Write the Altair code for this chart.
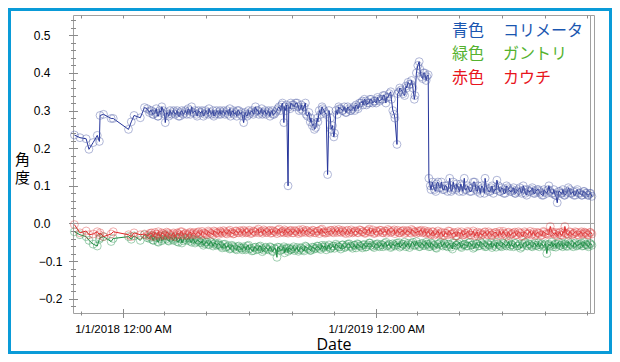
import altair as alt
import pandas as pd

# ---- measurement days (offset in days from 2018-01-01) ----
days_sparse = [-70, -62, -53, -49, -43, -37, -34, -33, -28, -17, -14, 8, 12, 16, 25, 31, 35]
days_dense = [
    38, 41, 44, 48, 51, 55, 58, 61, 65, 68,
    72, 75, 78, 82, 85, 89, 92, 96, 99, 102,
    106, 109, 113, 116, 119, 123, 126, 130, 133, 137,
    140, 143, 147, 150, 154, 157, 160, 164, 167, 171,
    174, 177, 181, 184, 188, 191, 195, 198, 201, 205,
    208, 212, 215, 218, 222, 225, 229, 232, 235, 238,
    239, 242, 246, 249, 253, 256, 259, 263, 266, 270,
    273, 276, 280, 283, 287, 290, 293, 295, 297, 300,
    304, 307, 311, 314, 317, 321, 324, 328, 331, 334,
    338, 341, 345, 348, 351, 355, 358, 362, 365, 368,
    372, 375, 379, 382, 386, 389, 392, 395, 396, 399,
    403, 406, 409, 413, 416, 420, 423, 425, 427, 430,
    433, 437, 440, 441, 444, 447, 451, 454, 458, 461,
    464, 468, 471, 475, 478, 481, 485, 488, 492, 495,
    498, 502, 505, 509, 512, 515, 519, 522, 526, 529,
    532, 536, 539, 543, 546, 549, 553, 556, 560, 563,
    566, 570, 573, 577, 580, 583, 587, 590, 594, 597,
    600, 604, 607, 611, 614, 616, 618, 621, 624, 626,
    628, 631, 634, 637, 639, 642, 645, 649, 652, 655,
    659, 662, 665, 668, 671, 673, 676,
]
days_extra = [
    39, 43, 46, 50, 53, 56, 60, 63, 66, 70,
    73, 77, 80, 83, 87, 90, 94, 97, 100, 104,
    107, 111, 114, 118, 121, 124, 128, 131, 135, 138,
    141, 145, 148, 152, 155, 159, 162, 165, 169, 172,
    176, 179, 182, 186, 189, 193, 196, 200, 203, 206,
    210, 213, 216, 220, 223, 227, 230, 233, 236, 241,
    244, 247, 251, 254, 257, 261, 264, 268, 271, 275,
    278, 281, 285, 288, 291, 299, 302, 305, 309, 312,
    316, 319, 322, 326, 329, 333, 336, 339, 343, 346,
    350, 353, 356, 360, 363, 367, 370, 374, 377, 380,
    384, 387, 391, 398, 401, 404, 408, 411, 415, 418,
    421, 428, 432, 435, 438, 443, 446, 449, 452, 456,
    459, 463, 466, 469, 473, 476, 480, 483, 487, 490,
    493, 497, 500, 504, 507, 511, 514, 517, 521, 524,
    527, 531, 534, 538, 541, 544, 548, 551, 555, 558,
    561, 565, 568, 572, 575, 579, 582, 585, 589, 592,
    595, 599, 602, 606, 609, 613, 620, 623, 630, 633,
    636, 641, 644, 647, 650, 654, 657, 661, 664, 667,
    670, 674,
]

# ---- 青色 コリメータ (collimator) ----
blue = [
    0.235, 0.228, 0.225, 0.197, 0.215, 0.234, 0.218, 0.287, 0.290, 0.279,
    0.279, 0.250, 0.270, 0.287, 0.281, 0.308, 0.305,
    0.295, 0.300, 0.290, 0.305, 0.285, 0.295, 0.300, 0.268, 0.290, 0.300,
    0.295, 0.290, 0.300, 0.285, 0.300, 0.295, 0.290, 0.300, 0.310, 0.295,
    0.290, 0.300, 0.295, 0.285, 0.300, 0.290, 0.295, 0.300, 0.290, 0.295,
    0.300, 0.295, 0.290, 0.300, 0.305, 0.295, 0.290, 0.285, 0.300, 0.295,
    0.268, 0.290, 0.300, 0.295, 0.290, 0.310, 0.300, 0.295, 0.290, 0.300,
    0.295, 0.285, 0.300, 0.290, 0.300, 0.310, 0.315, 0.268, 0.300, 0.100,
    0.310, 0.320, 0.315, 0.320, 0.310, 0.305, 0.300, 0.320, 0.285, 0.270,
    0.260, 0.250, 0.280, 0.300, 0.310, 0.300, 0.290, 0.130, 0.300, 0.250,
    0.230, 0.300, 0.310, 0.305, 0.300, 0.295, 0.310, 0.300, 0.305, 0.300,
    0.310, 0.320, 0.325, 0.330, 0.315, 0.320, 0.330, 0.325, 0.320, 0.330,
    0.330, 0.340, 0.320, 0.335, 0.350, 0.300, 0.280, 0.210, 0.345, 0.360,
    0.350, 0.340, 0.360, 0.370, 0.380, 0.330, 0.400, 0.420, 0.430, 0.390,
    0.400, 0.380, 0.395, 0.120, 0.090, 0.100, 0.085, 0.110, 0.095, 0.090,
    0.100, 0.085, 0.120, 0.090, 0.095, 0.105, 0.085, 0.100, 0.120, 0.090,
    0.095, 0.085, 0.110, 0.090, 0.100, 0.080, 0.095, 0.120, 0.090, 0.085,
    0.100, 0.090, 0.115, 0.085, 0.095, 0.080, 0.100, 0.090, 0.085, 0.095,
    0.080, 0.090, 0.085, 0.100, 0.080, 0.090, 0.085, 0.095, 0.080, 0.090,
    0.085, 0.075, 0.090, 0.080, 0.100, 0.085, 0.080, 0.090, 0.075, 0.055,
    0.085, 0.080, 0.090, 0.075, 0.080, 0.095, 0.080, 0.085, 0.075, 0.090,
    0.080, 0.075, 0.085, 0.080, 0.075, 0.080, 0.072,
]
blue_extra = [
    0.300, 0.290, 0.295, 0.285, 0.300, 0.310, 0.290, 0.295, 0.285, 0.290,
    0.300, 0.295, 0.285, 0.295, 0.290, 0.300, 0.305, 0.290, 0.295, 0.300,
    0.285, 0.295, 0.300, 0.290, 0.295, 0.305, 0.290, 0.285, 0.300, 0.290,
    0.290, 0.300, 0.295, 0.290, 0.285, 0.300, 0.295, 0.300, 0.290, 0.285,
    0.295, 0.285, 0.290, 0.300, 0.295, 0.300, 0.290, 0.305, 0.295, 0.290,
    0.300, 0.295, 0.290, 0.295, 0.305, 0.300, 0.320, 0.310, 0.315, 0.305,
    0.315, 0.310, 0.320, 0.300, 0.315, 0.310, 0.290, 0.295, 0.280, 0.265,
    0.255, 0.270, 0.290, 0.305, 0.295, 0.280, 0.260, 0.240, 0.290, 0.305,
    0.300, 0.310, 0.295, 0.305, 0.300, 0.310, 0.315, 0.305, 0.320, 0.315,
    0.325, 0.320, 0.330, 0.320, 0.325, 0.335, 0.325, 0.330, 0.340, 0.335,
    0.345, 0.330, 0.290, 0.350, 0.355, 0.345, 0.365, 0.375, 0.370, 0.360,
    0.340, 0.410, 0.385, 0.400, 0.390, 0.100, 0.110, 0.090, 0.105, 0.095,
    0.110, 0.090, 0.100, 0.095, 0.085, 0.110, 0.090, 0.095, 0.105, 0.085,
    0.090, 0.100, 0.085, 0.095, 0.110, 0.085, 0.090, 0.100, 0.080, 0.095,
    0.085, 0.095, 0.080, 0.090, 0.100, 0.085, 0.090, 0.080, 0.095, 0.085,
    0.090, 0.080, 0.085, 0.095, 0.080, 0.090, 0.075, 0.085, 0.090, 0.080,
    0.085, 0.090, 0.080, 0.075, 0.085, 0.090, 0.080, 0.075, 0.085, 0.080,
    0.075, 0.085, 0.090, 0.080, 0.075, 0.085, 0.080, 0.075, 0.085, 0.080,
    0.075, 0.080,
]

# ---- 赤色 カウチ (couch) ----
red = [
    -0.003, -0.025, -0.020, -0.030, -0.028, -0.022, -0.030, -0.025, -0.035, -0.028,
    -0.022, -0.030, -0.035, -0.025, -0.030, -0.028, -0.032,
    -0.030, -0.025, -0.035, -0.028, -0.022, -0.030, -0.027, -0.033, -0.025, -0.030,
    -0.028, -0.035, -0.025, -0.030, -0.022, -0.028, -0.032, -0.026, -0.030, -0.024,
    -0.027, -0.022, -0.030, -0.025, -0.028, -0.020, -0.026, -0.030, -0.022, -0.025,
    -0.020, -0.026, -0.022, -0.028, -0.018, -0.024, -0.027, -0.020, -0.025, -0.022,
    -0.018, -0.025, -0.022, -0.027, -0.020, -0.024, -0.015, -0.022, -0.026, -0.020,
    -0.024, -0.018, -0.025, -0.021, -0.027, -0.015, -0.022, -0.025, -0.020, -0.026,
    -0.022, -0.018, -0.025, -0.020, -0.027, -0.022, -0.016, -0.024, -0.020, -0.026,
    -0.018, -0.024, -0.021, -0.027, -0.015, -0.022, -0.025, -0.020, -0.024, -0.018,
    -0.025, -0.020, -0.016, -0.024, -0.021, -0.027, -0.018, -0.022, -0.025, -0.020,
    -0.024, -0.017, -0.022, -0.026, -0.020, -0.015, -0.023, -0.027, -0.020, -0.024,
    -0.018, -0.025, -0.021, -0.016, -0.024, -0.020, -0.027, -0.022, -0.018, -0.025,
    -0.021, -0.027, -0.019, -0.024, -0.016, -0.022, -0.026, -0.020, -0.024, -0.018,
    -0.023, -0.027, -0.021, -0.025, -0.030, -0.022, -0.028, -0.020, -0.026, -0.032,
    -0.025, -0.030, -0.021, -0.028, -0.024, -0.033, -0.026, -0.022, -0.030, -0.027,
    -0.024, -0.031, -0.020, -0.027, -0.033, -0.025, -0.029, -0.022, -0.030, -0.026,
    -0.032, -0.024, -0.028, -0.021, -0.030, -0.026, -0.034, -0.023, -0.028, -0.025,
    -0.030, -0.022, -0.027, -0.033, -0.025, -0.029, -0.021, -0.028, -0.032, -0.024,
    -0.027, -0.031, -0.023, -0.028, -0.026, -0.008, -0.022, -0.028, -0.024, -0.033,
    -0.026, -0.030, -0.022, -0.008, -0.027, -0.031, -0.024, -0.028, -0.022, -0.030,
    -0.025, -0.029, -0.023, -0.027, -0.031, -0.024, -0.028,
]
red_extra = [
    -0.026, -0.032, -0.024, -0.029, -0.034, -0.025, -0.030, -0.023, -0.028, -0.033,
    -0.025, -0.030, -0.027, -0.022, -0.031, -0.026, -0.029, -0.023, -0.027, -0.030,
    -0.024, -0.028, -0.021, -0.026, -0.030, -0.023, -0.027, -0.020, -0.025, -0.029,
    -0.023, -0.019, -0.026, -0.021, -0.025, -0.028, -0.020, -0.024, -0.019, -0.026,
    -0.021, -0.024, -0.018, -0.026, -0.022, -0.019, -0.025, -0.021, -0.017, -0.024,
    -0.020, -0.026, -0.019, -0.023, -0.018, -0.025, -0.021, -0.017, -0.024, -0.020,
    -0.025, -0.019, -0.023, -0.017, -0.025, -0.021, -0.018, -0.024, -0.022, -0.019,
    -0.025, -0.020, -0.017, -0.023, -0.026, -0.019, -0.023, -0.017, -0.024, -0.021,
    -0.018, -0.024, -0.020, -0.026, -0.017, -0.023, -0.020, -0.025, -0.018, -0.022,
    -0.026, -0.019, -0.023, -0.017, -0.025, -0.021, -0.018, -0.024, -0.020, -0.026,
    -0.019, -0.023, -0.017, -0.025, -0.021, -0.018, -0.024, -0.020, -0.026, -0.019,
    -0.023, -0.020, -0.025, -0.019, -0.024, -0.028, -0.022, -0.031, -0.025, -0.029,
    -0.023, -0.032, -0.026, -0.020, -0.029, -0.025, -0.034, -0.022, -0.028, -0.031,
    -0.026, -0.021, -0.030, -0.025, -0.033, -0.023, -0.028, -0.031, -0.024, -0.029,
    -0.022, -0.031, -0.027, -0.024, -0.033, -0.026, -0.021, -0.029, -0.025, -0.032,
    -0.027, -0.023, -0.030, -0.025, -0.034, -0.022, -0.028, -0.026, -0.031, -0.023,
    -0.029, -0.025, -0.032, -0.021, -0.027, -0.030, -0.024, -0.029, -0.023, -0.031,
    -0.025, -0.028, -0.022, -0.030, -0.026, -0.024, -0.031, -0.022, -0.027, -0.025,
    -0.030, -0.024,
]

# ---- 緑色 ガントリ (gantry) ----
green = [
    -0.022, -0.030, -0.035, -0.045, -0.055, -0.060, -0.042, -0.038, -0.035, -0.048,
    -0.040, -0.035, -0.042, -0.033, -0.045, -0.030, -0.038,
    -0.040, -0.032, -0.045, -0.038, -0.050, -0.035, -0.042, -0.030, -0.045, -0.038,
    -0.042, -0.035, -0.048, -0.040, -0.052, -0.038, -0.045, -0.040, -0.050, -0.043,
    -0.048, -0.045, -0.052, -0.058, -0.050, -0.055, -0.048, -0.060, -0.052, -0.056,
    -0.058, -0.065, -0.055, -0.062, -0.068, -0.058, -0.064, -0.070, -0.060, -0.066,
    -0.062, -0.070, -0.058, -0.066, -0.072, -0.063, -0.068, -0.060, -0.075, -0.065,
    -0.068, -0.062, -0.072, -0.066, -0.090, -0.064, -0.070, -0.062, -0.068, -0.074,
    -0.065, -0.070, -0.062, -0.068, -0.074, -0.064, -0.070, -0.060, -0.066, -0.072,
    -0.063, -0.068, -0.060, -0.066, -0.058, -0.064, -0.070, -0.062, -0.057, -0.065,
    -0.060, -0.055, -0.062, -0.068, -0.057, -0.063, -0.055, -0.060, -0.066, -0.058,
    -0.054, -0.060, -0.065, -0.056, -0.062, -0.052, -0.058, -0.064, -0.055, -0.060,
    -0.056, -0.062, -0.050, -0.058, -0.064, -0.054, -0.060, -0.052, -0.057, -0.063,
    -0.055, -0.050, -0.058, -0.064, -0.053, -0.059, -0.048, -0.056, -0.062, -0.054,
    -0.058, -0.050, -0.056, -0.062, -0.052, -0.058, -0.064, -0.055, -0.050, -0.060,
    -0.054, -0.062, -0.056, -0.068, -0.052, -0.058, -0.050, -0.064, -0.056, -0.060,
    -0.052, -0.058, -0.066, -0.054, -0.060, -0.048, -0.056, -0.062, -0.053, -0.058,
    -0.064, -0.055, -0.050, -0.058, -0.062, -0.054, -0.060, -0.048, -0.056, -0.062,
    -0.053, -0.059, -0.066, -0.055, -0.050, -0.060, -0.056, -0.062, -0.052, -0.058,
    -0.062, -0.054, -0.058, -0.080, -0.055, -0.060, -0.050, -0.057, -0.063, -0.055,
    -0.050, -0.058, -0.062, -0.054, -0.060, -0.048, -0.056, -0.062, -0.052, -0.058,
    -0.055, -0.060, -0.050, -0.057, -0.062, -0.053, -0.058,
]
green_extra = [
    -0.036, -0.044, -0.034, -0.048, -0.040, -0.046, -0.033, -0.041, -0.047, -0.036,
    -0.045, -0.039, -0.050, -0.036, -0.046, -0.042, -0.038, -0.047, -0.041, -0.052,
    -0.044, -0.050, -0.046, -0.054, -0.049, -0.057, -0.051, -0.055, -0.058, -0.053,
    -0.061, -0.056, -0.064, -0.059, -0.066, -0.061, -0.068, -0.062, -0.065, -0.070,
    -0.066, -0.060, -0.068, -0.073, -0.064, -0.070, -0.062, -0.067, -0.071, -0.063,
    -0.070, -0.064, -0.075, -0.068, -0.063, -0.072, -0.067, -0.078, -0.065, -0.069,
    -0.067, -0.072, -0.064, -0.070, -0.066, -0.073, -0.062, -0.068, -0.071, -0.064,
    -0.066, -0.061, -0.069, -0.063, -0.059, -0.067, -0.061, -0.066, -0.059, -0.063,
    -0.057, -0.064, -0.059, -0.054, -0.062, -0.058, -0.065, -0.056, -0.061, -0.057,
    -0.063, -0.057, -0.052, -0.061, -0.058, -0.054, -0.062, -0.057, -0.053, -0.060,
    -0.055, -0.061, -0.057, -0.051, -0.060, -0.056, -0.062, -0.053, -0.058, -0.050,
    -0.057, -0.061, -0.053, -0.059, -0.055, -0.061, -0.054, -0.059, -0.066, -0.053,
    -0.057, -0.052, -0.060, -0.055, -0.063, -0.051, -0.058, -0.054, -0.061, -0.057,
    -0.055, -0.060, -0.050, -0.057, -0.063, -0.054, -0.059, -0.052, -0.058, -0.061,
    -0.056, -0.051, -0.059, -0.063, -0.055, -0.060, -0.052, -0.058, -0.054, -0.061,
    -0.057, -0.053, -0.060, -0.055, -0.062, -0.051, -0.058, -0.054, -0.060, -0.056,
    -0.059, -0.052, -0.057, -0.061, -0.054, -0.058, -0.062, -0.055, -0.059, -0.053,
    -0.057, -0.061, -0.053, -0.058, -0.054, -0.060, -0.056, -0.052, -0.059, -0.055,
    -0.058, -0.054,
]

legend_kanji = ["青色", "緑色", "赤色"]
legend_names = ["コリメータ", "ガントリ", "カウチ"]
legend_colors = ["#1a56b0", "#55b22f", "#e8141c"]

y_major = [-0.2, -0.1, 0.0, 0.1, 0.2, 0.3, 0.4, 0.5]
y_minor = [round(-0.22 + 0.02 * i, 2) for i in range(39)]

days = days_sparse + days_dense + days_extra
assert len(days) == len(blue) + len(blue_extra) == len(red) + len(red_extra) == len(green) + len(green_extra), \
    (len(days), len(blue) + len(blue_extra), len(red) + len(red_extra), len(green) + len(green_extra))

base = pd.Timestamp("2018-01-01")
dates = [(base + pd.Timedelta(days=d)).strftime("%Y-%m-%d") for d in days]


def frame(vals):
    return pd.DataFrame({"date": dates, "value": vals})


df_b = frame(blue + blue_extra)
df_r = frame(red + red_extra)
df_g = frame(green + green_extra)

W, H = 521, 298
xscale = alt.Scale(type="utc", domain=[alt.DateTime(year=2017, month=10, date=21, utc=True),
                                       alt.DateTime(year=2019, month=11, date=11, utc=True)])
yscale = alt.Scale(domain=[-0.238, 0.554], nice=False, zero=False)

two_month = [alt.DateTime(year=y, month=m, date=1, utc=True)
             for (y, m) in [(2017, 11), (2018, 1), (2018, 3), (2018, 5), (2018, 7), (2018, 9), (2018, 11),
                            (2019, 1), (2019, 3), (2019, 5), (2019, 7), (2019, 9), (2019, 11)]]
jan = [alt.DateTime(year=2018, month=1, date=1, utc=True), alt.DateTime(year=2019, month=1, date=1, utc=True)]

TICK = "#8a8a8a"

x_major = alt.Axis(orient="bottom", values=jan, domain=False, grid=False, offset=-4.5, tickSize=9,
                   tickColor=TICK, labelExpr="utcFormat(datum.value, '%-m/%-d/%Y') + ' 12:00 AM'",
                   labelFont="Liberation Sans", labelFontSize=11.5, labelColor="#000000", labelPadding=6,
                   labelFlush=False, labelOverlap=False,
                   title="Date", titleFont="Open Sans", titleFontSize=16, titleFontWeight="normal",
                   titleColor="#000000", titleBaseline="alphabetic", titleAnchor="middle", titleY=40.5)
x_minor = alt.Axis(orient="bottom", values=two_month, domain=False, grid=False, offset=-2, tickSize=4,
                   tickColor=TICK, labels=False, title=None)
x_top = alt.Axis(orient="top", values=two_month, domain=False, grid=False, offset=-3, tickSize=3,
                 tickColor=TICK, labels=False, title=None)

y_major_axis = alt.Axis(orient="left", values=y_major, format=".1f", domain=False, grid=False, offset=-4.5,
                        tickSize=9, tickColor=TICK, labelFont="Liberation Sans", labelFontSize=12,
                        labelColor="#000000", labelPadding=18.5,
                        labelAlign={"condition": {"test": "datum.value < 0", "value": "center"}, "value": "right"},
                        title=["角", "度"], titleAngle=0, titleFont="Noto Sans CJK JP", titleFontSize=15,
                        titleFontWeight="normal", titleColor="#000000", titleAlign="center",
                        titleBaseline="middle", titleLineHeight=18, titleX=-55.5, titleY=144)
y_minor_axis = alt.Axis(orient="left", values=y_minor, domain=False, grid=False, offset=-2.5, tickSize=5,
                        tickColor=TICK, labels=False, title=None)
y_right = alt.Axis(orient="right", domain=True, domainColor="#a0a0a0", ticks=False, labels=False,
                   grid=False, offset=-4, title=None)


def enc(chart, xa, ya):
    return chart.encode(x=alt.X("date:T", scale=xscale, axis=xa),
                        y=alt.Y("value:Q", scale=yscale, axis=ya))


zero = alt.Chart(pd.DataFrame({"value": [0.0]})).mark_rule(color="#a0a0a0", strokeWidth=1).encode(
    y=alt.Y("value:Q", scale=yscale, axis=None))

PT = dict(shape="circle", filled=False, size=62, strokeWidth=0.8, opacity=0.55)
g_line = enc(alt.Chart(df_g).mark_line(color="#1e8a40", strokeWidth=1), x_major, y_major_axis)
g_pts = enc(alt.Chart(df_g).mark_point(color="#2a9450", **PT), x_minor, y_minor_axis)
r_line = enc(alt.Chart(df_r).mark_line(color="#e02424", strokeWidth=1), x_top, y_right)
r_pts = enc(alt.Chart(df_r).mark_point(color="#e04848", **PT), None, None)
b_line = enc(alt.Chart(df_b).mark_line(color="#25349a", strokeWidth=1), None, None)
b_pts = enc(alt.Chart(df_b).mark_point(color="#4d5ca6", **PT), None, None)

leg_df = pd.DataFrame({"k": legend_kanji, "n": legend_names, "c": legend_colors,
                       "row": [0, 1, 2]})
leg_y = alt.Y("row:Q", axis=None, scale=alt.Scale(domain=[0, 2], range=[16, 62.5]))
leg_k = alt.Chart(leg_df).mark_text(align="left", baseline="middle", font="Noto Sans CJK JP",
                                    fontSize=16).encode(
    x=alt.value(379), y=leg_y, text="k:N", color=alt.Color("c:N", scale=None))
leg_n = alt.Chart(leg_df).mark_text(align="left", baseline="middle", font="Noto Sans CJK JP",
                                    fontSize=16).encode(
    x=alt.value(430), y=leg_y, text="n:N", color=alt.Color("c:N", scale=None))

border = alt.Chart(pd.DataFrame({"a": [0]})).mark_rect(fillOpacity=0, stroke="#0a9bd8", strokeWidth=3).encode(
    x=alt.value(-63.5), x2=alt.value(537.5), y=alt.value(-5.5), y2=alt.value(337.5))

chart = alt.layer(
    zero, g_line, g_pts, r_line, r_pts, b_line, b_pts, leg_k, leg_n, border
).resolve_axis(x="independent", y="independent").resolve_scale(y="independent").properties(
    width=W, height=H,
    padding={"left": 65, "top": 7, "right": 18, "bottom": 41},
    autosize=alt.AutoSizeParams(type="none"),
    background="#ffffff",
).configure_view(stroke="#a0a0a0", strokeWidth=1)

chart.save("out.html", embed_options={"renderer": "svg", "actions": False})
